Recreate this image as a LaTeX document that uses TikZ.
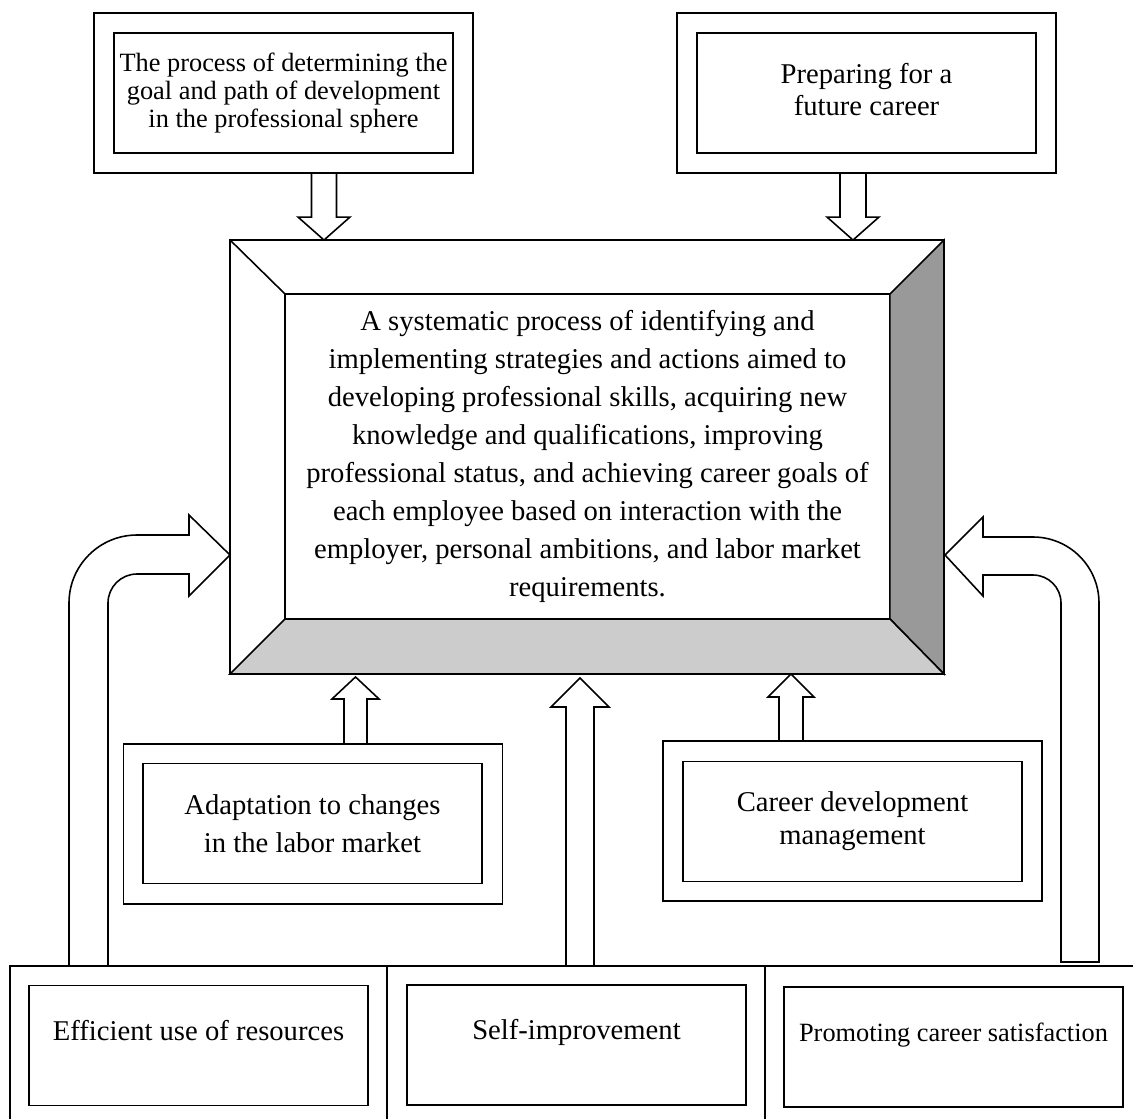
\documentclass[tikz,border=0pt]{standalone}
\usepackage{fontspec}
\setmainfont{Liberation Serif}
\usetikzlibrary{calc}

% block arrow: base, tip, half shaft, half head, head length
\newcommand{\blockarrow}[5]{%
  \draw[fill=white] ($(#1)+(-#3,0)$) -- ($(#2)+(-#3,#5)$) -- ($(#2)+(-#4,#5)$)
    -- (#2) -- ($(#2)+(#4,#5)$) -- ($(#2)+(#3,#5)$) -- ($(#1)+(#3,0)$) -- cycle;}

\begin{document}
\begin{tikzpicture}[
    x=0.02cm, y=-0.02cm,
    line width=0.9pt,
    every node/.style={outer sep=0pt},
    outerbox/.style={draw, minimum width=7.58cm, minimum height=3.2cm},
    innerbox/.style={draw, minimum width=6.78cm, minimum height=2.4cm,
      inner sep=0pt, align=center, font=\fontsize{16.3}{21.5}\selectfont},
    cell/.style={draw, anchor=north west, minimum height=3.3cm},
    lowtext/.style={text height=0.4cm, text depth=0.62cm}
  ]
  \useasboundingbox (0,0) rectangle (1133,1119);

  % Central bevelled box
  \node[draw, minimum width=14.28cm, minimum height=8.68cm] (frame) at (587,457) {};
  \node[draw, minimum width=12.1cm, minimum height=6.5cm, inner sep=0pt, align=center,
    font=\fontsize{16.3}{21.7}\selectfont] (core) at (587.5,456.5)
    {A systematic process of identifying and\\
     implementing strategies and actions aimed to\\
     developing professional skills, acquiring new\\
     knowledge and qualifications, improving\\
     professional status, and achieving career goals of\\
     each employee based on interaction with the\\
     employer, personal ambitions, and labor market\\
     requirements.};
  \filldraw[fill=black!40] (frame.north east) -- (core.north east) -- (core.south east) -- (frame.south east) -- cycle;
  \filldraw[fill=black!20] (frame.south west) -- (core.south west) -- (core.south east) -- (frame.south east) -- cycle;
  \draw (frame.north west) -- (core.north west);

  % Top boxes
  \node[innerbox, font=\fontsize{15}{15.7}\selectfont] (goal) at (283.5,93)
    {The process of determining the\\goal and path of development\\in the professional sphere};
  \node[outerbox] (goalf) at (goal) {};
  \node[innerbox, font=\fontsize{16.3}{18.2}\selectfont] (prep) at (866.5,93)
    {\raisebox{0.14cm}{\begin{tabular}{@{}c@{}}Preparing for a\\future career\end{tabular}}};
  \node[outerbox] (prepf) at (prep) {};

  \coordinate (g1) at (324,173);
  \coordinate (g2) at (g1 |- frame.north);
  \blockarrow{g1}{g2}{12.5}{26}{-23}
  \coordinate (p1) at (853,173);
  \coordinate (p2) at (p1 |- frame.north);
  \blockarrow{p1}{p2}{13}{26}{-23}

  % Middle boxes
  \node[innerbox] (adapt) at (312.5,823.5) {Adaptation to changes\\in the labor market};
  \node[outerbox] (adaptf) at (313,824) {};
  \node[innerbox, font=\fontsize{16.3}{18.7}\selectfont] (manage) at (852.5,821.5)
    {Career development\\management};
  \node[outerbox] (managef) at (852.5,821) {};

  \coordinate (a1) at (355.5,744);
  \coordinate (a2) at ($(a1 |- frame.south)+(0,3)$);
  \blockarrow{a1}{a2}{11.5}{23.5}{22}
  \coordinate (m1) at (791,741);
  \coordinate (m2) at (m1 |- frame.south);
  \blockarrow{m1}{m2}{12}{23}{23}

  % Bottom row
  \node[cell, minimum width=7.54cm] (c1) at (10,966) {};
  \node[cell, minimum width=7.56cm] (c2) at (387,966) {};
  \node[cell, minimum width=7.8cm] (c3) at (765,966) {};
  \node[innerbox, lowtext] (effic) at (198.5,1045.5) {Efficient use of resources};
  \node[innerbox, lowtext] (selfimp) at (576.5,1045) {Self-improvement};
  \node[innerbox, lowtext, font=\fontsize{15}{18}\selectfont] (satisf) at (953.5,1047)
    {Promoting career satisfaction};

  \coordinate (s1) at (580,966);
  \coordinate (s2) at ($(s1 |- frame.south)+(0,4)$);
  \blockarrow{s1}{s2}{14}{29}{29}

  % Bent arrows from the outer cells
  \draw[fill=white] (69,966) -- (69,603) arc[start angle=180, end angle=270, radius=68]
    -- (189,535) -- (189,515) -- (230,555) -- (189,596) -- (189,574) -- (137,574)
    arc[start angle=270, end angle=180, radius=29] -- (108,966) -- cycle;
  \draw[fill=white] (1099,962) -- (1099,603) arc[start angle=0, end angle=-90, radius=66]
    -- (983,537) -- (983,517) -- (945,555) -- (983,596) -- (983,575) -- (1033,575)
    arc[start angle=-90, end angle=0, radius=28] -- (1061,962) -- cycle;
\end{tikzpicture}
\end{document}
